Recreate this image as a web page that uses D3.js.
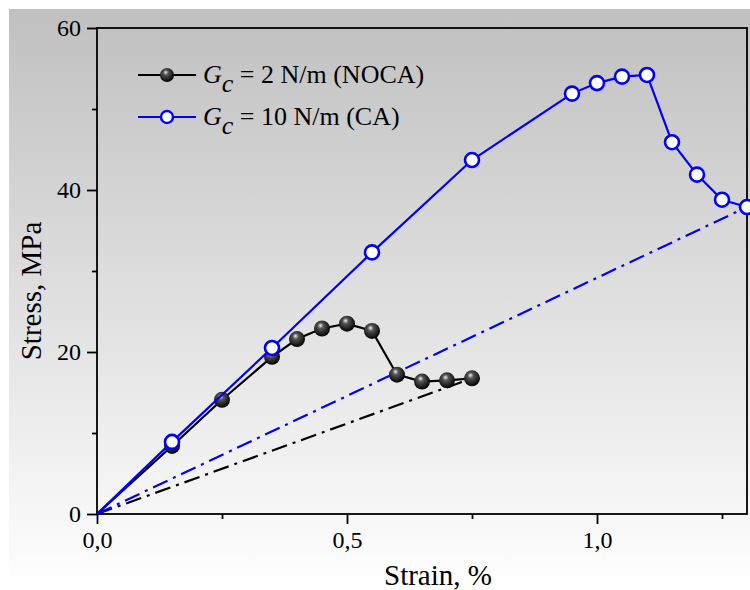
<!DOCTYPE html>
<html lang="en">
<head>
<meta charset="UTF-8">
<script src="https://cdn.jsdelivr.net/npm/d3@7"></script>
<title>Stress-strain</title>
<style>
    body { margin: 0; background: #fff; }
    svg text { font-family: "Liberation Serif", "Times New Roman", serif; fill: #000; }
    .axis path, .axis line { stroke: #000; stroke-width: 1.8; }
</style>
</head>
<body>
<div id="chart"></div>
<script>
    // data
    const strainNoca = [0, 0.15, 0.25, 0.35, 0.40, 0.45, 0.50, 0.55, 0.60, 0.65, 0.70, 0.75];
    const stressNoca = [0, 8.4, 14.1, 19.4, 21.6, 22.9, 23.5, 22.6, 17.2, 16.35, 16.5, 16.75];
    const strainCa = [0, 0.15, 0.35, 0.55, 0.75, 0.95, 1.00, 1.05, 1.10, 1.15, 1.20, 1.25, 1.30];
    const stressCa = [0, 8.9, 20.5, 32.3, 43.7, 51.9, 53.2, 54.0, 54.2, 45.9, 41.9, 38.8, 37.9];
    // unloading lines (dash-dot)
    const unloadNoca = [[0, 0], [0.75, 16.75]];
    const unloadCa = [[0, 0], [1.3, 37.9]];
    const xMajor = [0, 0.5, 1.0];
    const xMinor = [0.25, 0.75, 1.25];
    const yMajor = [0, 20, 40, 60];
    const yMinor = [10, 30, 50];
    const legendLabels = [" = 2 N/m (NOCA)", " = 10 N/m (CA)"];

    const width = 750, height = 590;
    const mLeft = 97, mRight = 747, mTop = 28, mBottom = 514;
    const serif = '"Liberation Serif", "Times New Roman", serif';

    const x = d3.scaleLinear().domain([0, 1.3]).range([mLeft, mRight]);
    const y = d3.scaleLinear().domain([0, 60]).range([mBottom, mTop]);

    const svg = d3.select("#chart").append("svg")
        .attr("width", width)
        .attr("height", height)
        .attr("font-family", serif);

    const defs = svg.append("defs");
    const bg = defs.append("linearGradient")
        .attr("id", "bg").attr("x1", 0).attr("y1", 0).attr("x2", 0).attr("y2", 1);
    bg.append("stop").attr("offset", "0%").attr("stop-color", "#c0c0c0");
    bg.append("stop").attr("offset", "100%").attr("stop-color", "#ffffff");

    const ball = defs.append("radialGradient")
        .attr("id", "ball").attr("cx", "45%").attr("cy", "40%").attr("r", "60%")
        .attr("fx", "40%").attr("fy", "30%");
    ball.append("stop").attr("offset", "0%").attr("stop-color", "#f0f0f0");
    ball.append("stop").attr("offset", "30%").attr("stop-color", "#555");
    ball.append("stop").attr("offset", "100%").attr("stop-color", "#000");

    svg.append("rect")
        .attr("x", 9).attr("y", 9)
        .attr("width", width - 9).attr("height", height - 9)
        .attr("fill", "url(#bg)");

    // frame
    svg.append("rect")
        .attr("x", mLeft).attr("y", mTop)
        .attr("width", mRight - mLeft).attr("height", mBottom - mTop)
        .attr("fill", "none").attr("stroke", "#000").attr("stroke-width", 1.8);

    const fmt = d => d3.format(".1f")(d).replace(".", ",");

    svg.append("g").attr("class", "axis")
        .attr("transform", `translate(0,${mBottom})`)
        .call(d3.axisBottom(x).tickValues(xMajor).tickFormat(fmt).tickSizeInner(10).tickSizeOuter(0).tickPadding(7));
    svg.append("g").attr("class", "axis")
        .attr("transform", `translate(0,${mBottom})`)
        .call(d3.axisBottom(x).tickValues(xMinor).tickFormat("").tickSizeInner(5).tickSizeOuter(0));

    svg.append("g").attr("class", "axis")
        .attr("transform", `translate(${mLeft},0)`)
        .call(d3.axisLeft(y).tickValues(yMajor).tickSizeInner(10).tickSizeOuter(0).tickPadding(6));
    svg.append("g").attr("class", "axis")
        .attr("transform", `translate(${mLeft},0)`)
        .call(d3.axisLeft(y).tickValues(yMinor).tickFormat("").tickSizeInner(5).tickSizeOuter(0));

    svg.selectAll(".axis .domain").remove();
    svg.selectAll(".axis")
        .attr("font-family", serif)
        .attr("font-size", 24);

    // axis titles
    svg.append("text")
        .attr("x", 438).attr("y", 585)
        .attr("text-anchor", "middle")
        .attr("font-size", 29)
        .text("Strain, %");
    svg.append("text")
        .attr("transform", "translate(41,291) rotate(-90)")
        .attr("text-anchor", "middle")
        .attr("font-size", 29)
        .text("Stress, MPa");

    const line = d3.line().x(d => x(d[0])).y(d => y(d[1]));

    svg.append("path")
        .datum(unloadNoca)
        .attr("d", line)
        .attr("fill", "none").attr("stroke", "#000")
        .attr("stroke-width", 2.2).attr("stroke-dasharray", "16,6,3,6");
    svg.append("path")
        .datum(unloadCa)
        .attr("d", line)
        .attr("fill", "none").attr("stroke", "#0000ff")
        .attr("stroke-width", 2.2).attr("stroke-dasharray", "16,6,3,6");

    const noca = strainNoca.map((s, i) => [s, stressNoca[i]]);
    const ca = strainCa.map((s, i) => [s, stressCa[i]]);

    svg.append("path")
        .datum(noca)
        .attr("d", line)
        .attr("fill", "none").attr("stroke", "#000").attr("stroke-width", 2.2);
    svg.selectAll("circle.noca")
        .data(noca.slice(1))
        .join("circle")
        .attr("class", "noca")
        .attr("cx", d => x(d[0])).attr("cy", d => y(d[1]))
        .attr("r", 8)
        .attr("fill", "url(#ball)");

    svg.append("path")
        .datum(ca)
        .attr("d", line)
        .attr("fill", "none").attr("stroke", "#0000ff").attr("stroke-width", 2.2);
    svg.selectAll("circle.ca")
        .data(ca.slice(1))
        .join("circle")
        .attr("class", "ca")
        .attr("cx", d => x(d[0])).attr("cy", d => y(d[1]))
        .attr("r", 7)
        .attr("fill", "#fff").attr("stroke", "#0000ff").attr("stroke-width", 2.6);

    // legend
    const legend = svg.append("g");
    const rows = [
        { color: "#000", fill: "url(#ball)", r: 7, sw: 0, y: 75 },
        { color: "#0000ff", fill: "#fff", r: 6, sw: 2.4, y: 117 }
    ];
    rows.forEach((row, i) => {
        legend.append("line")
            .attr("x1", 138).attr("x2", 196)
            .attr("y1", row.y).attr("y2", row.y)
            .attr("stroke", row.color).attr("stroke-width", 2);
        legend.append("circle")
            .attr("cx", 167).attr("cy", row.y).attr("r", row.r)
            .attr("fill", row.fill)
            .attr("stroke", row.sw ? row.color : "none")
            .attr("stroke-width", row.sw);
        const t = legend.append("text")
            .attr("x", 203).attr("y", row.y + 8)
            .attr("font-size", 26);
        t.append("tspan").attr("font-style", "italic").text("G");
        t.append("tspan").attr("font-style", "italic").attr("dy", 9).text("c");
        t.append("tspan").attr("dy", -9).text(legendLabels[i]);
    });
</script>
</body>
</html>
